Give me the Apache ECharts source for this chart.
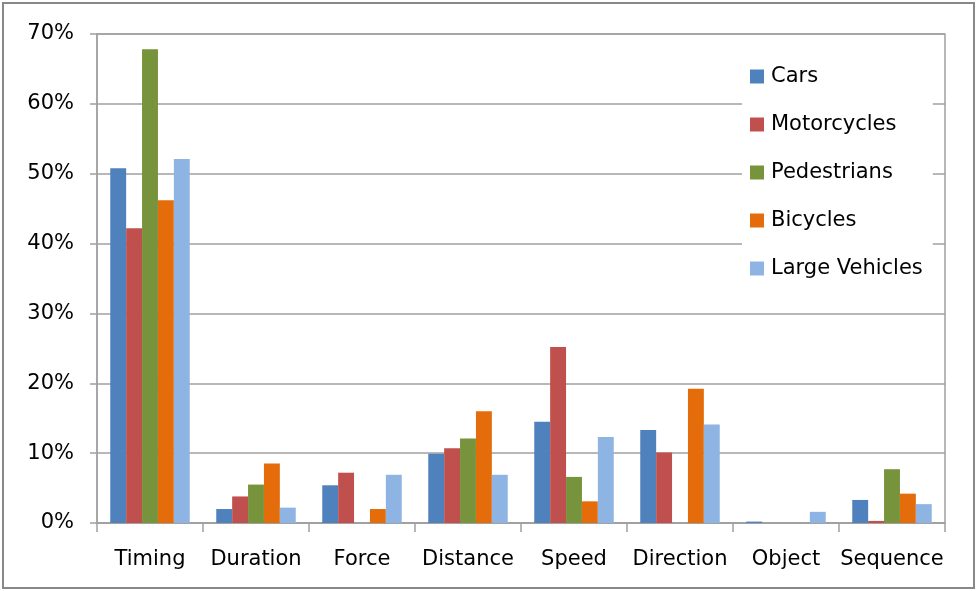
<!DOCTYPE html>
<html>
<head>
<meta charset="utf-8">
<script src="https://cdn.jsdelivr.net/npm/echarts@6/dist/echarts.min.js"></script>
<style>
html,body{margin:0;padding:0;background:#fff;}
#c{width:977px;height:591px;}
</style>
</head>
<body>
<div id="c"></div>
<script>
const categories = ['Timing','Duration','Force','Distance','Speed','Direction','Object','Sequence'];
const seriesNames = ['Cars','Motorcycles','Pedestrians','Bicycles','Large Vehicles'];
const cars         = [50.8, 2.0, 5.4,  9.9, 14.5, 13.3, 0.2, 3.3];
const motorcycles  = [42.2, 3.8, 7.2, 10.7, 25.2, 10.1, 0,   0.3];
const pedestrians  = [67.8, 5.5, 0,   12.1,  6.6,  0,   0,   7.7];
const bicycles     = [46.2, 8.5, 2.0, 16.0,  3.1, 19.2, 0,   4.2];
const largeVehicles= [52.1, 2.2, 6.9,  6.9, 12.3, 14.1, 1.6, 2.7];
const yTicks = [0,10,20,30,40,50,60,70];

const colors = ['#4F81BD','#C0504D','#77933C','#E46C0A','#8EB4E3'];
const dataSets = [cars, motorcycles, pedestrians, bicycles, largeVehicles];
const font = 'DejaVu Sans';

const chart = echarts.init(document.getElementById('c'));
chart.setOption({
  animation: false,
  backgroundColor: '#fff',
  color: colors,
  graphic: [{
    type: 'rect', shape: {x: 3, y: 3, width: 971, height: 585},
    style: {fill: 'none', stroke: '#888', lineWidth: 2}, silent: true
  }],
  grid: {left: 97, right: 32, top: 34, bottom: 68, show: true, borderColor: '#A0A0A0', borderWidth: 1.5, backgroundColor: 'transparent'},
  legend: {
    orient: 'vertical', left: 742, top: 62,
    backgroundColor: '#fff', padding: [4, 10, 4, 8],
    itemWidth: 14, itemHeight: 14, itemGap: 27, icon: 'rect',
    textStyle: {fontFamily: font, fontSize: 21, color: '#000', padding: [0, 0, 0, 2]},
    data: seriesNames
  },
  xAxis: {
    type: 'category', data: categories,
    axisLine: {lineStyle: {color: '#A0A0A0', width: 1.5}},
    axisTick: {show: true, length: 9, lineStyle: {color: '#A0A0A0', width: 1.5}},
    axisLabel: {fontFamily: font, fontSize: 21, color: '#000', margin: 26, interval: 0}
  },
  yAxis: {
    type: 'value', min: 0, max: 70, interval: 10,
    axisLine: {show: true, lineStyle: {color: '#A0A0A0', width: 1.5}},
    axisTick: {show: true, length: 7, lineStyle: {color: '#A0A0A0', width: 1.5}},
    splitLine: {lineStyle: {color: '#A0A0A0', width: 1.5}},
    axisLabel: {fontFamily: font, fontSize: 21, color: '#000', margin: 23, formatter: v => yTicks.includes(v) ? v + '%' : ''}
  },
  series: seriesNames.map((n, i) => ({
    name: n, type: 'bar', data: dataSets[i],
    barGap: '0%', barCategoryGap: '25%',
    itemStyle: {color: colors[i]}
  }))
});
</script>
</body>
</html>
